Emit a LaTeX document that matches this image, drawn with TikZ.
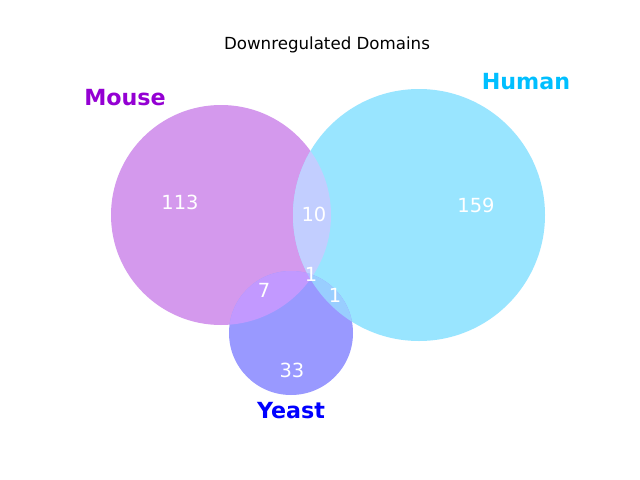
\documentclass[tikz,border=0pt]{standalone}
\usepackage{fontspec}
\setmainfont{DejaVu Sans}
\definecolor{monly}{RGB}{212,153,237}
\definecolor{honly}{RGB}{153,229,255}
\definecolor{yonly}{RGB}{153,153,255}
\definecolor{mh}{RGB}{194,206,255}
\definecolor{my}{RGB}{194,153,255}
\definecolor{hy}{RGB}{153,206,255}
\definecolor{mhy}{RGB}{177,184,255}
\definecolor{mlab}{RGB}{148,0,211}
\definecolor{hlab}{RGB}{0,191,255}
\definecolor{ylab}{RGB}{0,0,255}
\tikzset{
  setlabel/.style={font=\fontsize{16}{19}\selectfont\bfseries, inner sep=0pt},
  count/.style={font=\fontsize{14}{17}\selectfont, text=white, inner sep=0pt},
  titlelab/.style={font=\fontsize{12}{14}\selectfont, inner sep=0pt}
}
\begin{document}
\begin{tikzpicture}[x=0.72pt,y=-0.72pt]
\useasboundingbox (0,0) rectangle (640,480);
\fill[white] (0,0) rectangle (640,480);
\def\cm{(221,215) circle[radius=110]}
\def\ch{(419,215) circle[radius=126]}
\def\cy{(291,333) circle[radius=62]}
\fill[monly] \cm;
\fill[honly] \ch;
\fill[yonly] \cy;
\begin{scope}\clip \cm; \fill[mh] \ch; \end{scope}
\begin{scope}\clip \cm; \fill[my] \cy; \end{scope}
\begin{scope}\clip \ch; \fill[hy] \cy; \end{scope}
\begin{scope}\clip \cm; \clip \ch; \fill[mhy] \cy; \end{scope}
\node[titlelab] (title) at (327,45) {Downregulated Domains};
\node[setlabel, text=mlab] (mouse) at (125,98) {Mouse};
\node[setlabel, text=hlab] (human) at (526,82) {Human};
\node[setlabel, text=ylab] (yeast) at (291,411) {Yeast};
\node[count] (n100) at (180,202) {113};
\node[count] (n010) at (476,205) {159};
\node[count] (n110) at (314,214) {10};
\node[count] (n101) at (264,290) {7};
\node[count] (n111) at (311,274) {1};
\node[count] (n011) at (335,295) {1};
\node[count] (n001) at (292,370) {33};
\end{tikzpicture}
\end{document}
